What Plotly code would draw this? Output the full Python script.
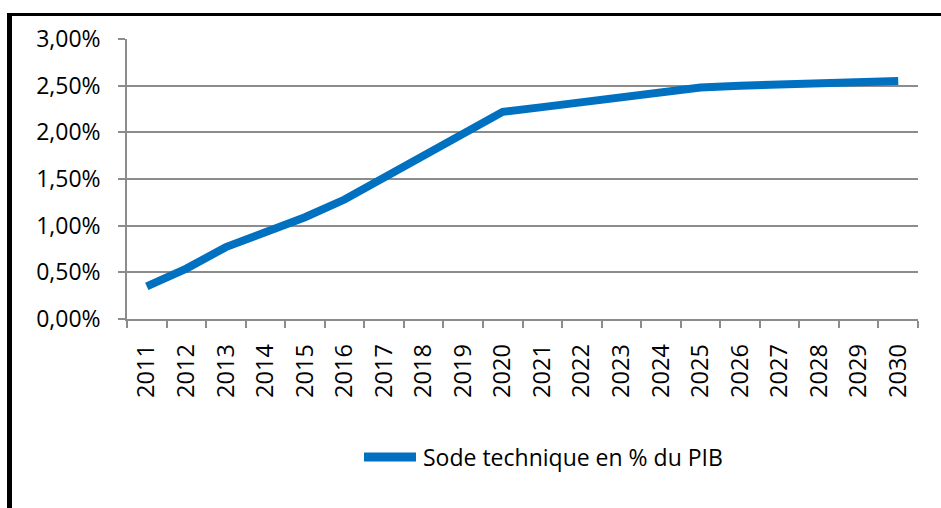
import plotly.graph_objects as go

# Annual series: technical balance as a share of GDP (percent)
years = [str(y) for y in range(2011, 2031)]
solde_pct = [0.35, 0.54, 0.77, 0.92, 1.09, 1.28, 1.51, 1.74, 1.97, 2.22,
             2.27, 2.32, 2.37, 2.42, 2.48, 2.50, 2.51, 2.52, 2.53, 2.55]
y_ticks = [0, 0.5, 1.0, 1.5, 2.0, 2.5, 3.0]
y_tick_text = [f"{v:.2f}%".replace(".", ",") for v in y_ticks]
series_name = "Sode technique en % du PIB"

W, H = 941, 508
L, R, T, B = 127, 23, 39, 189
PW, PH = W - L - R, H - T - B

def px(x):
    return (x - L) / PW

def py(y):
    return (H - B - y) / PH

BLUE = "#0070C0"
GRID = "#8C8C8C"
FONT = "Open Sans"

fig = go.Figure()
fig.add_trace(go.Scatter(
    x=years, y=solde_pct, mode="lines", name=series_name,
    line=dict(color=BLUE, width=8, shape="linear"),
    showlegend=False, hoverinfo="x+y",
))

fig.update_layout(
    width=W, height=H,
    margin=dict(l=L, r=R, t=T, b=B, pad=0),
    paper_bgcolor="white", plot_bgcolor="white",
    font=dict(family=FONT, size=23, color="black"),
    xaxis=dict(
        type="category", range=[-0.5, len(years) - 0.5],
        tickson="boundaries", ticks="outside", ticklen=7, tickwidth=1.5,
        tickcolor=GRID, showline=True, linecolor=GRID, linewidth=1.5,
        showgrid=False, tickangle=-90, ticklabelstandoff=14,
        tickfont=dict(family=FONT, size=23.5, color="black"),
    ),
    yaxis=dict(
        range=[0, 3.0], tickmode="array", tickvals=y_ticks, ticktext=y_tick_text,
        ticks="outside", ticklen=7, tickwidth=1.5, tickcolor=GRID,
        showline=True, linecolor=GRID, linewidth=1.5,
        showgrid=True, gridcolor=GRID, gridwidth=1.5, zeroline=False,
        ticklabelstandoff=13,
        tickfont=dict(family=FONT, size=23, color="black"),
    ),
    shapes=[
        # outer frame: left and top edges
        dict(type="line", xref="paper", yref="paper",
             x0=px(9.5), x1=px(9.5), y0=py(13), y1=py(H + 5),
             line=dict(color="black", width=5)),
        dict(type="line", xref="paper", yref="paper",
             x0=px(7), x1=px(W + 5), y0=py(14.5), y1=py(14.5),
             line=dict(color="black", width=3)),
        # legend key
        dict(type="line", xref="paper", yref="paper",
             x0=px(364), x1=px(416), y0=py(457), y1=py(457),
             line=dict(color=BLUE, width=9)),
    ],
    annotations=[
        dict(text=series_name, xref="paper", yref="paper",
             x=px(421), y=py(457), xanchor="left", yanchor="middle",
             showarrow=False, font=dict(family=FONT, size=23, color="black")),
    ],
)

fig.write_html("out.html")
